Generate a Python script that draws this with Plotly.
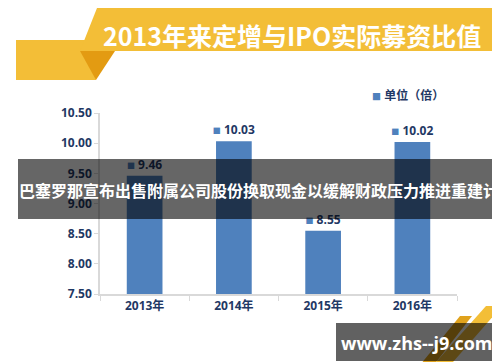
import plotly.graph_objects as go

categories = ["2013年", "2014年", "2015年", "2016年"]
values = [9.46, 10.03, 8.55, 10.02]
y_ticks = [7.5, 8.0, 8.5, 9.0, 9.5, 10.0, 10.5]
y_tick_labels = ["7.50", "8.00", "8.50", "9.00", "9.50", "10.00", "10.50"]
title_text = "2013年来定增与IPO实际募资比值"
legend_text = "单位（倍）"
banner_text = "巴塞罗那宣布出售附属公司股份换取现金以缓解财政压力推进重建计"
watermark_text = "www.zhs--j9.com"

W, H = 500, 362
L, R, T, B = 92, 449, 105, 286

NAVY = "#1f3864"
BLUE = "#4f81bd"
YELLOW = "#f3be37"
ORANGE = "#e39b12"
FONT = "Open Sans, Noto Sans CJK SC, sans-serif"
CJK = "Noto Sans CJK SC, sans-serif"


def px(x):
    return (x - L) / (R - L)


def py(y):
    return (B - y) / (B - T)


def poly(points):
    return "M " + " L ".join(f"{px(x):.5f},{py(y):.5f}" for x, y in points) + " Z"


fig = go.Figure()
fig.add_trace(go.Bar(
    x=categories,
    y=values,
    width=0.4,
    marker=dict(color=BLUE, line=dict(width=0)),
    texttemplate="<span style='color:" + BLUE + ";font-size:8px'>■</span> %{y:.2f}",
    textposition="outside",
    constraintext="none",
    cliponaxis=False,
    textfont=dict(family=FONT, size=12, color=NAVY, weight="bold"),
    hoverinfo="skip",
    showlegend=False,
))

shapes = []
# title decoration
shapes.append(dict(type="path", xref="paper", yref="paper", layer="below",
                   path=poly([(8, 32), (80, 32), (88, 72), (8, 72)]),
                   fillcolor=YELLOW, line=dict(width=0)))
shapes.append(dict(type="path", xref="paper", yref="paper", layer="below",
                   path=poly([(89, 0), (491, 0), (491, 43), (72, 43)]),
                   fillcolor=YELLOW, line=dict(width=0)))
shapes.append(dict(type="path", xref="paper", yref="paper", layer="below",
                   path=poly([(72, 43), (107, 43), (88, 72)]),
                   fillcolor=ORANGE, line=dict(width=0)))
# bottom-right stripes
shapes.append(dict(type="path", xref="paper", yref="paper", layer="below",
                   path=poly([(452, 308), (464, 308), (422, 362), (408, 362)]),
                   fillcolor="#e0a21c", line=dict(width=0)))
shapes.append(dict(type="path", xref="paper", yref="paper", layer="below",
                   path=poly([(478, 298), (494, 298), (438, 362), (421, 362)]),
                   fillcolor=YELLOW, line=dict(width=0)))
# overlays
shapes.append(dict(type="rect", xref="paper", yref="paper", layer="above",
                   x0=px(10), x1=px(491), y0=py(211), y1=py(151),
                   fillcolor="rgba(0,0,0,0.6)", line=dict(width=0)))
shapes.append(dict(type="rect", xref="paper", yref="paper", layer="above",
                   x0=px(328), x1=px(491), y0=py(353), y1=py(315),
                   fillcolor="rgba(0,0,0,0.62)", line=dict(width=0)))

annotations = [
    dict(text=title_text, xref="paper", yref="paper", x=px(284), y=py(27),
         showarrow=False, xanchor="center", yanchor="middle",
         font=dict(family=CJK, size=25, color="white", weight="bold")),
    dict(text="<span style='color:" + BLUE + ";font-size:9px'>■</span> " + legend_text,
         xref="paper", yref="paper", x=px(362), y=py(88),
         showarrow=False, xanchor="left", yanchor="middle",
         font=dict(family=FONT, size=12, color=NAVY, weight="bold")),
    dict(text=banner_text, xref="paper", yref="paper", x=px(251), y=py(182),
         showarrow=False, xanchor="center", yanchor="middle",
         font=dict(family=CJK, size=16, color="white", weight="bold")),
    dict(text=watermark_text, xref="paper", yref="paper", x=px(409), y=py(335),
         showarrow=False, xanchor="center", yanchor="middle",
         font=dict(family=FONT, size=18, color="white", weight="bold")),
]

fig.update_layout(
    width=W, height=H,
    margin=dict(l=L, r=W - R, t=T, b=H - B, pad=0),
    paper_bgcolor="white",
    plot_bgcolor="white",
    font=dict(family=FONT, color=NAVY),
    shapes=shapes,
    annotations=annotations,
    showlegend=False,
    bargap=0.6,
)
fig.update_xaxes(
    type="category",
    showline=True, linecolor="#d9d9d9", linewidth=1.5,
    ticks="outside", tickson="boundaries", ticklen=5, tickcolor="#d9d9d9",
    showgrid=False, zeroline=False,
    tickfont=dict(family=FONT, size=12, color=NAVY, weight="bold"),
    fixedrange=True,
)
fig.update_yaxes(
    range=[7.5, 10.5],
    tickvals=y_ticks, ticktext=y_tick_labels,
    showline=True, linecolor="#d9d9d9", linewidth=1.5,
    ticks="outside", ticklen=4, tickcolor="#d9d9d9",
    showgrid=False, zeroline=False,
    tickfont=dict(family=FONT, size=12, color=NAVY, weight="bold"),
    fixedrange=True,
)

fig.write_html("out.html", config={"displayModeBar": False})
